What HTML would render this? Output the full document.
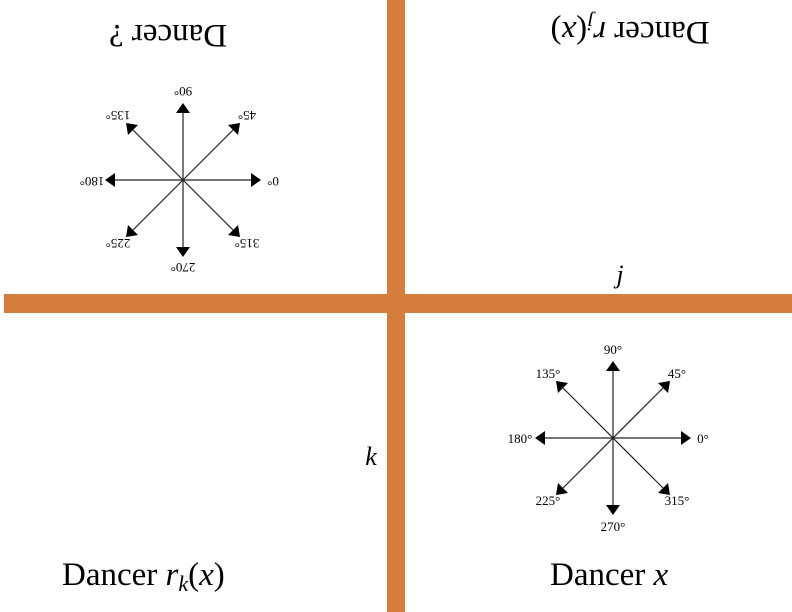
<!DOCTYPE html>
<html><head><meta charset="utf-8"><style>
html,body{margin:0;padding:0;background:#fff;}
svg{display:block;font-family:"Liberation Serif",serif;}
</style></head><body>
<svg width="792" height="612" viewBox="0 0 792 612">
<defs>
<g id="arrows">
  <g stroke="#222" stroke-width="1.2">
    <line x1="-70" y1="0" x2="70" y2="0"/>
    <line x1="0" y1="-70" x2="0" y2="70"/>
    <line x1="-50" y1="-50" x2="50" y2="50"/>
    <line x1="-50" y1="50" x2="50" y2="-50"/>
  </g>
  <g fill="#000">
    <polygon points="78,0 68,-7 68,7"/>
    <polygon points="-78,0 -68,-7 -68,7"/>
    <polygon points="0,-77 -7,-67 7,-67"/>
    <polygon points="0,77 -7,67 7,67"/>
    <polygon points="57,-57 45,-55 55,-45"/>
    <polygon points="-57,-57 -45,-55 -55,-45"/>
    <polygon points="57,57 45,55 55,45"/>
    <polygon points="-57,57 -45,55 -55,45"/>
  </g>
</g>
</defs>
<rect x="387" y="0" width="18" height="612" fill="#D57D3C"/>
<rect x="4" y="294" width="788" height="19" fill="#D57D3C"/>
<g>
  <use href="#arrows" x="613" y="438"/>
  <g font-size="13" text-anchor="middle" fill="#000">
    <text x="703" y="443">0°</text>
    <text x="677" y="378">45°</text>
    <text x="613" y="354">90°</text>
    <text x="548" y="378">135°</text>
    <text x="520" y="443">180°</text>
    <text x="548" y="505">225°</text>
    <text x="677" y="505">315°</text>
    <text x="613" y="531">270°</text>
  </g>
</g>
<g>
  <use href="#arrows" x="183" y="180"/>
  <g font-size="13" text-anchor="middle" fill="#000">
    <text transform="translate(273,182) rotate(180)" y="5">0°</text>
    <text transform="translate(247,116) rotate(180)" y="5">45°</text>
    <text transform="translate(183,92) rotate(180)" y="5">90°</text>
    <text transform="translate(118,116) rotate(180)" y="5">135°</text>
    <text transform="translate(92,182) rotate(180)" y="5">180°</text>
    <text transform="translate(118,244) rotate(180)" y="5">225°</text>
    <text transform="translate(247,244) rotate(180)" y="5">315°</text>
    <text transform="translate(183,268) rotate(180)" y="5">270°</text>
  </g>
</g>
<text x="620" y="283" font-size="26" font-style="italic" text-anchor="middle">j</text>
<text x="371" y="465" font-size="26" font-style="italic" text-anchor="middle">k</text>
<text x="550" y="585" font-size="33">Dancer <tspan font-style="italic">x</tspan></text>
<text x="62" y="585" font-size="33">Dancer <tspan font-style="italic">r</tspan><tspan font-style="italic" font-size="22" dy="6">k</tspan><tspan dy="-6">(</tspan><tspan font-style="italic">x</tspan>)</text>
<g transform="translate(630,33) rotate(180)">
<text x="0" y="11" font-size="33" text-anchor="middle">Dancer <tspan font-style="italic">r</tspan><tspan font-style="italic" font-size="22" dy="6">j</tspan><tspan dy="-6">(</tspan><tspan font-style="italic">x</tspan>)</text>
</g>
<g transform="translate(168,36) rotate(180)">
<text x="0" y="11" font-size="33" text-anchor="middle">Dancer ?</text>
</g>
</svg>
</body></html>
